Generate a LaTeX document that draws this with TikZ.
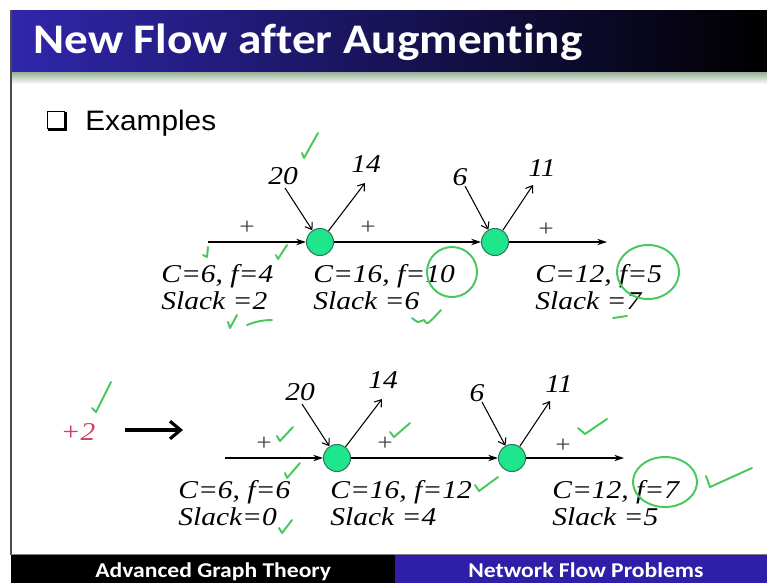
\documentclass[tikz,border=0pt]{standalone}
\usepackage{fontspec}
\usetikzlibrary{positioning,arrows.meta}
\newfontfamily\eqfont[FakeStretch=1.15]{Liberation Serif}
\newfontfamily\ttlfont[FakeStretch=1.12,Ligatures=NoCommon]{Carlito}
\newfontfamily\bodyfont[FakeStretch=1.06]{Liberation Sans}
\definecolor{TitleBlue}{RGB}{48,38,172}
\definecolor{BarBlue}{RGB}{46,30,168}
\definecolor{NodeFill}{RGB}{30,230,140}
\definecolor{NodeLine}{RGB}{50,120,85}
\definecolor{Marker}{RGB}{70,200,90}
\definecolor{PlusRed}{RGB}{215,60,90}

\begin{document}
\begin{tikzpicture}[x=0.02cm,y=-0.02cm,
  vert/.style={circle,draw=NodeLine,fill=NodeFill,line width=0.6pt,minimum size=0.54cm,inner sep=0pt},
  eq/.style={font=\eqfont\itshape\fontsize{14.6}{17}\selectfont,anchor=base west,inner sep=0pt},
  num/.style={font=\eqfont\itshape\fontsize{14.6}{17}\selectfont,inner sep=0pt},
  sgn/.style={font=\eqfont\fontsize{13.5}{15}\selectfont,inner sep=0pt,text=black!75},
  flow/.style={line width=0.6pt,-{Stealth[length=5.5pt,width=3.6pt]}},
  side/.style={line width=0.6pt,-{Straight Barb[length=3.5pt,width=5pt]}},
  pen/.style={draw=Marker,line width=1.1pt,line cap=round,line join=round},
  bar/.style={anchor=base west,inner sep=0pt,text=white,font=\ttlfont\bfseries\fontsize{12}{14}\selectfont}]
\useasboundingbox (0,0) rectangle (767,583);
\fill[white] (0,0) rectangle (767,583);
% slide frame
\shade[left color=TitleBlue,right color=black] (11,10) rectangle (767,72);
\shade[top color=black!25!green!20!gray!70,bottom color=white] (11,72) rectangle (767,84);
\draw[black!70,line width=0.8pt] (11,10) -- (11,555);
\draw[gray] (11,554) -- (767,554);
\fill[black] (11,555) rectangle (395,583);
\fill[BarBlue] (395,555) rectangle (767,583);
\node[anchor=base west,inner sep=0pt,text=white,font=\ttlfont\bfseries\fontsize{24}{28}\selectfont] (title) at (33,53) {New Flow after Augmenting};
\node[bar] (course) at (95,577) {Advanced Graph Theory};
\node[bar] (topic) at (468,577) {Network Flow Problems};
% bullet
\node[draw,line width=0.8pt,minimum size=0.34cm,inner sep=0pt] (box) at (56,120) {};
\draw[line width=1.3pt] ([shift={(1,1)}]box.south west) -- ([shift={(1,1)}]box.south east) -- ([shift={(1,1)}]box.north east);
\node[anchor=base west,inner sep=0pt,font=\bodyfont\fontsize{16}{19}\selectfont] (ex) at (85,130) {Examples};
% before augmenting
\begin{scope}
\node[vert] (u1) at (320,242) {};
\node[vert] (u2) at (495,242) {};
\coordinate (src) at (208,242);
\coordinate (snk) at (607,242);
\draw[flow] (src) -- (u1);
\draw[flow] (u1) -- (u2);
\draw[flow] (u2) -- (snk);
\node[sgn] (p1) at (247,228) {+};
\node[sgn] (p2) at (368,228) {+};
\node[sgn] (p3) at (546,230) {+};
\node[num] (in1) at (283,176) {20};
\node[num] (out1) at (366,164) {14};
\node[num] (in2) at (460,177) {6};
\node[num] (out2) at (542,168) {11};
\coordinate (a1) at (285,188);
\coordinate (b1) at (365,183);
\coordinate (a2) at (465,186);
\coordinate (b2) at (533,185);
\draw[side] (a1) -- (u1);
\draw[side] (u1) -- (b1);
\draw[side] (a2) -- (u2);
\draw[side] (u2) -- (b2);
\node[eq] (c1) at (161,282) {C=6, f=4};
\node[eq] (s1) at (161,309) {Slack =2};
\node[eq] (c2) at (313,282) {C=16, f=10};
\node[eq] (s2) at (313,309) {Slack =6};
\node[eq] (c3) at (535,282) {C=12, f=5};
\node[eq] (s3) at (535,309) {Slack =7};
\end{scope}
% after augmenting
\node[num,text=PlusRed] (add) at (78,432) {+2};
\coordinate (g1) at (125,430);
\coordinate (g2) at (183,430);
\draw[line width=1.8pt,-{Straight Barb[length=6pt,width=10pt]}] (g1) -- (g2);
\begin{scope}[shift={(17,216)}]
\node[vert] (w1) at (320,242) {};
\node[vert] (w2) at (495,242) {};
\coordinate (src') at (208,242);
\coordinate (snk') at (607,242);
\draw[flow] (src') -- (w1);
\draw[flow] (w1) -- (w2);
\draw[flow] (w2) -- (snk');
\node[sgn] (q1) at (247,228) {+};
\node[sgn] (q2) at (368,228) {+};
\node[sgn] (q3) at (546,230) {+};
\node[num] (in1') at (283,176) {20};
\node[num] (out1') at (366,164) {14};
\node[num] (in2') at (460,177) {6};
\node[num] (out2') at (542,168) {11};
\coordinate (a1') at (285,188);
\coordinate (b1') at (365,183);
\coordinate (a2') at (465,186);
\coordinate (b2') at (533,185);
\draw[side] (a1') -- (w1);
\draw[side] (w1) -- (b1');
\draw[side] (a2') -- (w2);
\draw[side] (w2) -- (b2');
\node[eq] (d1) at (161,282) {C=6, f=6};
\node[eq] (t1) at (161,309) {Slack=0};
\node[eq] (d2) at (313,282) {C=16, f=12};
\node[eq] (t2) at (313,309) {Slack =4};
\node[eq] (d3) at (535,282) {C=12, f=7};
\node[eq] (t3) at (535,309) {Slack =5};
\end{scope}
% green marks, top
\draw[pen] (302,153) -- (304,158) -- (318,133);
\draw[pen] (208,247) -- (207,257) -- (203,255);
\draw[pen] (276,255) -- (278,259) -- (287,245);
\draw[pen] (452,272) ++(70:25 and 25) arc[start angle=70,end angle=430,x radius=25,y radius=25];
\draw[pen] plot[smooth] coordinates {(412,318) (418,322) (424,320) (428,323) (441,310)};
\draw[pen] (228,322) -- (230,328) -- (237,315);
\draw[pen] (247,325) to[bend left=10] (272,320);
\draw[pen] (648,272) ++(-60:31 and 27) arc[start angle=-60,end angle=300,x radius=31,y radius=27];
\draw[pen] (613,318) -- (627,316);
% green marks, bottom
\draw[pen] (92,408) -- (96,412) -- (111,382);
\draw[pen] (277,436) -- (280,441) -- (293,427);
\draw[pen] (285,473) -- (287,478) -- (300,463);
\draw[pen] (279,528) -- (282,533) -- (292,520);
\draw[pen] (390,432) -- (394,437) -- (410,423);
\draw[pen] (475,485) -- (479,491) -- (498,477);
\draw[pen] (578,428) -- (585,434) -- (607,419);
\draw[pen] (665,482) ++(-60:32 and 25) arc[start angle=-60,end angle=300,x radius=32,y radius=25];
\draw[pen] (706,476) -- (710,487) -- (752,468);
\end{tikzpicture}
\end{document}
